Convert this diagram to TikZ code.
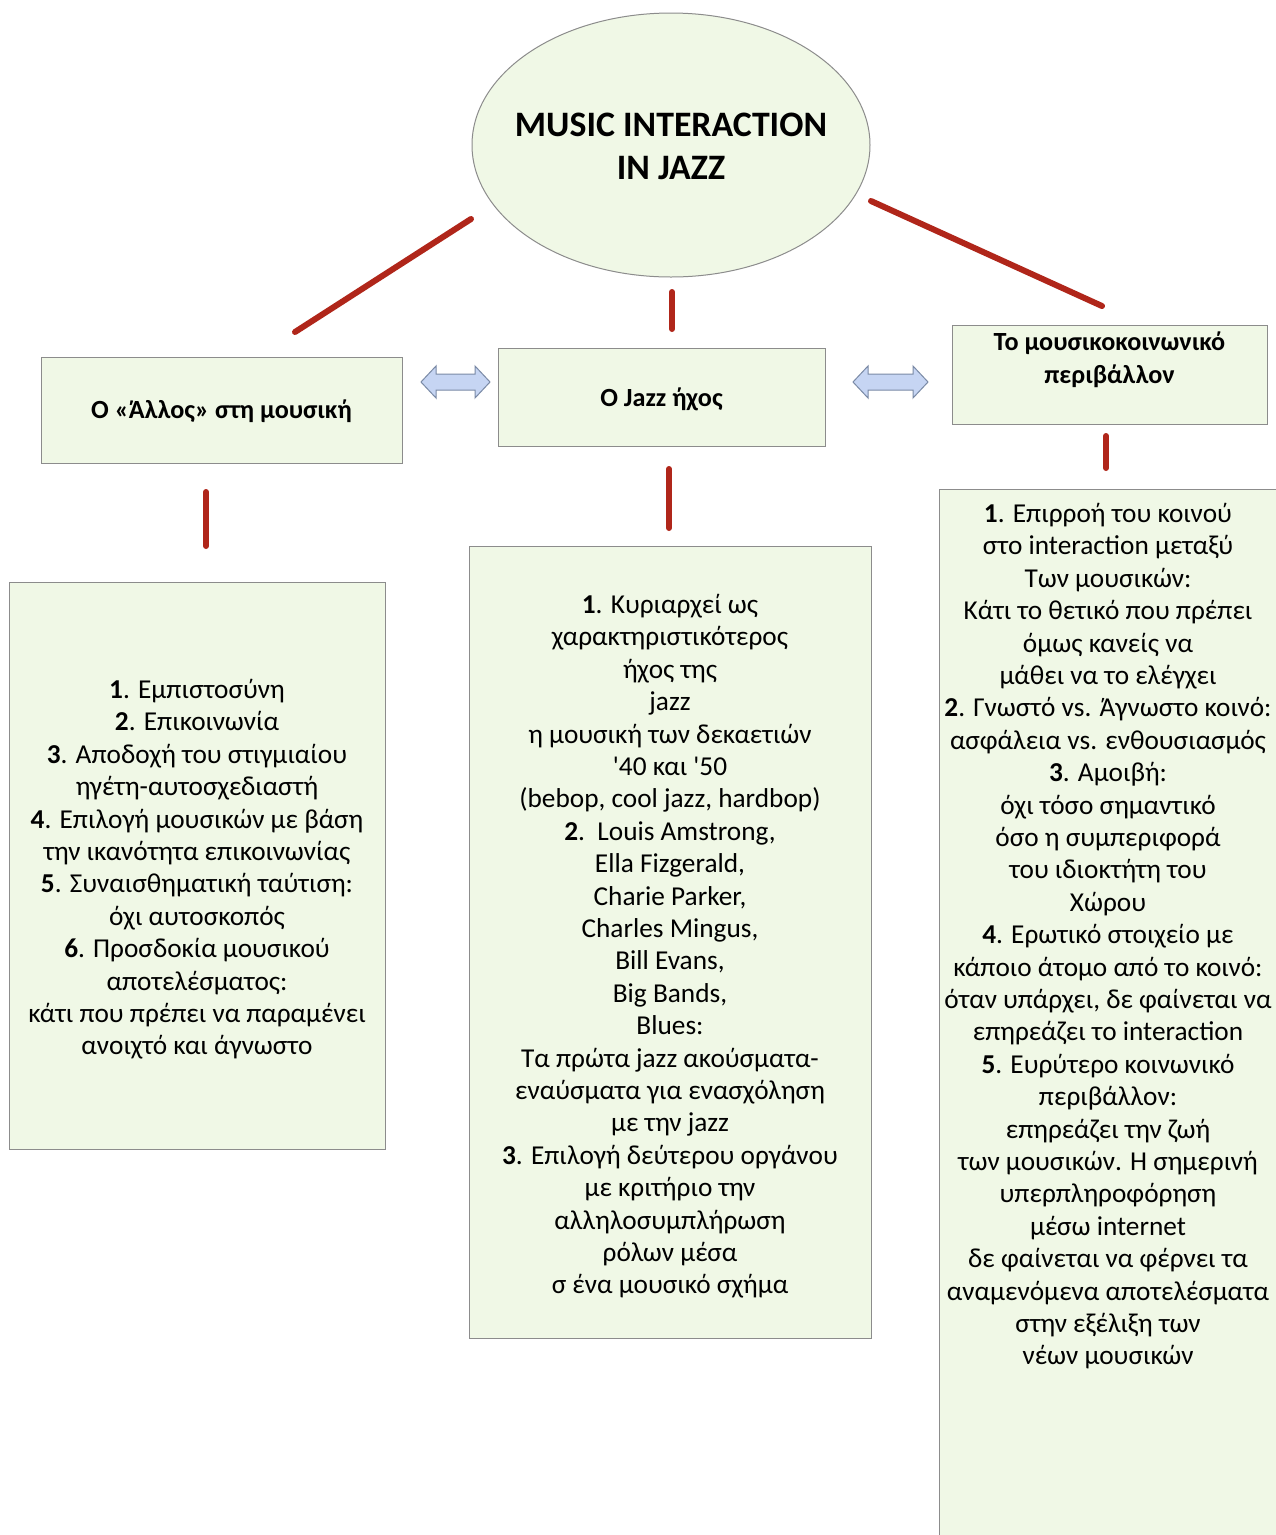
\documentclass[tikz,border=0pt]{standalone}
\usepackage{fontspec}
\setmainfont{Carlito}[Ligatures=TeXOff]
\usetikzlibrary{shapes.geometric}
\definecolor{boxfill}{HTML}{F0F8E6}
\definecolor{boxline}{HTML}{8C8C8C}
\definecolor{linkred}{HTML}{B0261A}
\definecolor{arrfill}{HTML}{C6D5F3}
\definecolor{arrline}{HTML}{7A8AA6}
\tikzset{
  panel/.style={draw=boxline, fill=boxfill, line width=1pt},
  redlink/.style={draw=linkred, line width=6pt, line cap=round},
  bodytext/.style={align=center, inner sep=0pt, font=\fontsize{27.3}{32.4}\selectfont},
  headtext/.style={align=center, inner sep=0pt, font=\bfseries\fontsize{26.2}{33}\selectfont},
  dblarrow/.style={draw=arrline, fill=arrfill, line width=1pt, line join=miter}
}
\newcommand{\dbarrow}[3]{% x-left, x-right, y
  \draw[dblarrow] (#1,#3) -- ({#1+15},{#3-16}) -- ({#1+15},{#3-8}) -- ({#2-15},{#3-8}) -- ({#2-15},{#3-16}) -- (#2,#3) -- ({#2-15},{#3+16}) -- ({#2-15},{#3+8}) -- ({#1+15},{#3+8}) -- ({#1+15},{#3+16}) -- cycle;}
\begin{document}
\begin{tikzpicture}[x=1pt,y=-1pt]
\useasboundingbox (0,0) rectangle (1276,1535);
\fill[white] (0,0) rectangle (1276,1535);

% ellipse
\node[ellipse, panel, minimum width=398pt, minimum height=264pt, inner sep=0pt] (top) at (671,145) {};
\node[align=center, inner sep=0pt, font=\bfseries\fontsize{35.8}{43}\selectfont] (toptext) at (671,146) {MUSIC INTERACTION\\IN JAZZ};

% header boxes
\draw[panel] (41,357) rectangle (402,463);
\node[headtext] (h1) at (221.5,411) {Ο «Άλλος» στη μουσική};
\draw[panel] (498,348) rectangle (825,446);
\node[headtext] (h2) at (661.5,399) {Ο Jazz ήχος};
\draw[panel] (952,325) rectangle (1267,424);
\node[headtext] (h3) at (1109.5,360) {Το μουσικοκοινωνικό\\περιβάλλον};

% body boxes
\draw[panel] (9,582) rectangle (385,1149);
\node[bodytext, anchor=north] (b1) at (197,679) {%
\textbf{1}. Εμπιστοσύνη\\
\textbf{2}. Επικοινωνία\\
\textbf{3}. Αποδοχή του στιγμιαίου\\
ηγέτη-αυτοσχεδιαστή\\
\textbf{4}. Επιλογή μουσικών με βάση\\
την ικανότητα επικοινωνίας\\
\textbf{5}. Συναισθηματική ταύτιση:\\
όχι αυτοσκοπός\\
\textbf{6}. Προσδοκία μουσικού\\
αποτελέσματος:\\
κάτι που πρέπει να παραμένει\\
ανοιχτό και άγνωστο};

\draw[panel] (469,546) rectangle (871,1338);
\node[bodytext, anchor=north] (b2) at (670,594) {%
\textbf{1}. Κυριαρχεί ως\\
χαρακτηριστικότερος\\
ήχος της\\
jazz\\
η μουσική των δεκαετιών\\
'40 και '50\\
(bebop, cool jazz, hardbop)\\
\textbf{2}.\ \ Louis Amstrong,\\
Ella Fizgerald,\\
Charie Parker,\\
Charles Mingus,\\
Bill Evans,\\
Big Bands,\\
Blues:\\
Τα πρώτα jazz ακούσματα-\\
εναύσματα για ενασχόληση\\
με την jazz\\
\textbf{3}. Επιλογή δεύτερου οργάνου\\
με κριτήριο την\\
αλληλοσυμπλήρωση\\
ρόλων μέσα\\
σ ένα μουσικό σχήμα};

\draw[panel] (939,489) rectangle (1290,1560);
\node[bodytext, anchor=north] (b3) at (1108,503) {%
\textbf{1}. Επιρροή του κοινού\\
στο interaction μεταξύ\\
Των μουσικών:\\
Κάτι το θετικό που πρέπει\\
όμως κανείς να\\
μάθει να το ελέγχει\\
\textbf{2}. Γνωστό vs. Άγνωστο κοινό:\\
ασφάλεια vs. ενθουσιασμός\\
\textbf{3}. Αμοιβή:\\
όχι τόσο σημαντικό\\
όσο η συμπεριφορά\\
του ιδιοκτήτη του\\
Χώρου\\
\textbf{4}. Ερωτικό στοιχείο με\\
κάποιο άτομο από το κοινό:\\
όταν υπάρχει, δε φαίνεται να\\
επηρεάζει το interaction\\
\textbf{5}. Ευρύτερο κοινωνικό\\
περιβάλλον:\\
επηρεάζει την ζωή\\
των μουσικών. Η σημερινή\\
υπερπληροφόρηση\\
μέσω internet\\
δε φαίνεται να φέρνει τα\\
αναμενόμενα αποτελέσματα\\
στην εξέλιξη των\\
νέων μουσικών};

% red connectors
\coordinate (l1a) at (471,219); \coordinate (l1b) at (295,332);
\coordinate (l2a) at (672,292); \coordinate (l2b) at (672,329);
\coordinate (l3a) at (871,201); \coordinate (l3b) at (1102,306);
\coordinate (l4a) at (206,492); \coordinate (l4b) at (206,546);
\coordinate (l5a) at (669,469); \coordinate (l5b) at (669,528);
\coordinate (l6a) at (1106,436); \coordinate (l6b) at (1106,468);
\draw[redlink] (l1a) -- (l1b);
\draw[redlink] (l2a) -- (l2b);
\draw[redlink] (l3a) -- (l3b);
\draw[redlink] (l4a) -- (l4b);
\draw[redlink] (l5a) -- (l5b);
\draw[redlink] (l6a) -- (l6b);

% double arrows
\dbarrow{421}{490}{382}
\dbarrow{853}{928}{382}
\end{tikzpicture}
\end{document}
